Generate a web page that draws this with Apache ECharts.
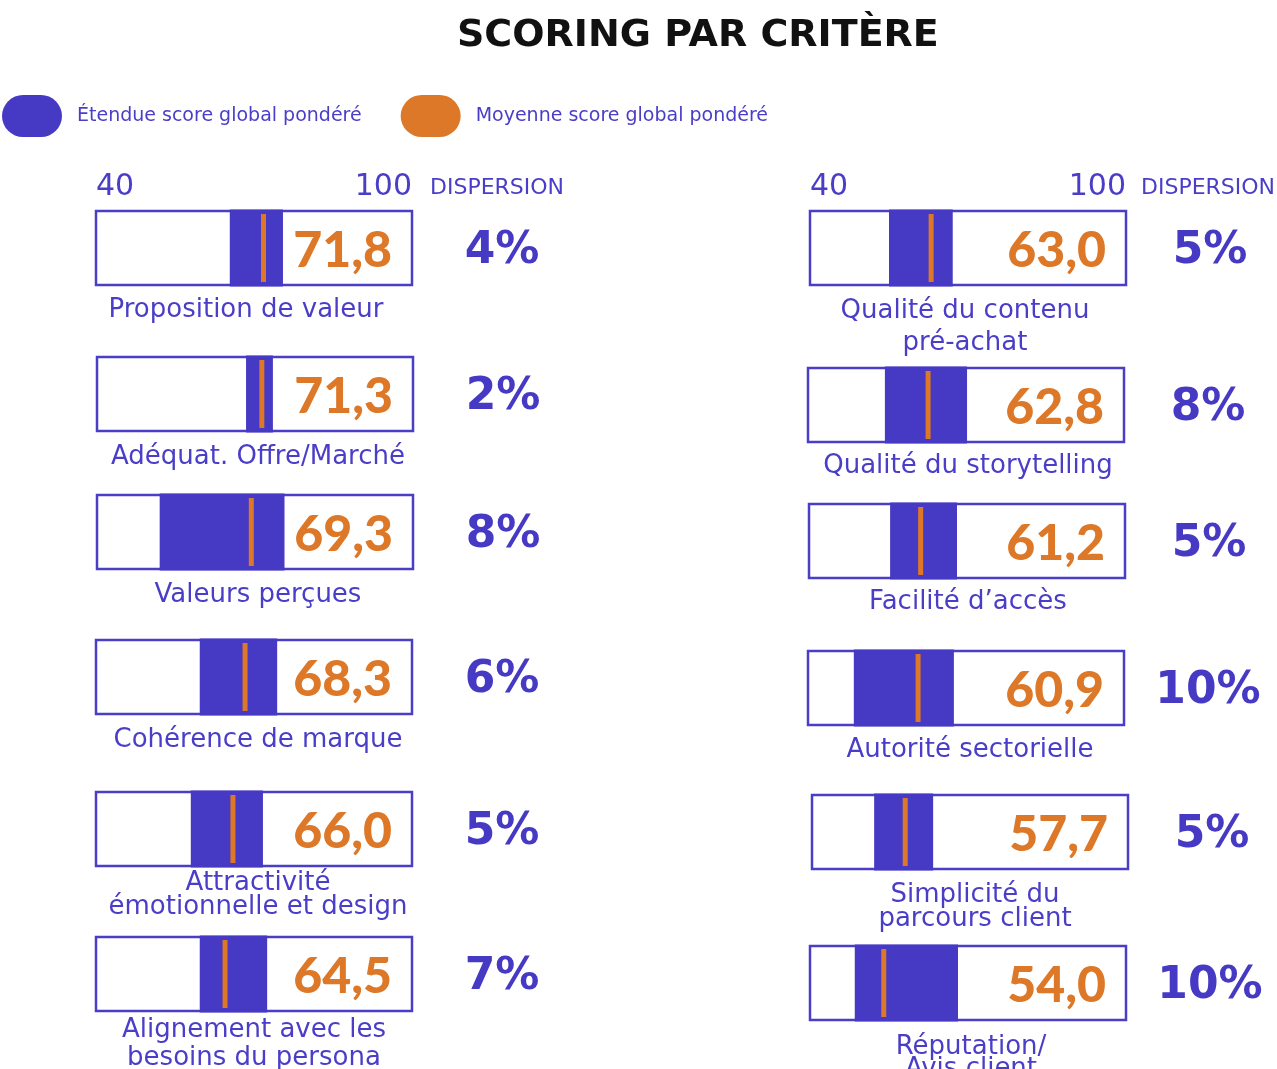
<!DOCTYPE html>
<html>
<head>
<meta charset="utf-8">
<script src="https://cdn.jsdelivr.net/npm/echarts@6/dist/echarts.min.js"></script>
<style>
  html, body { margin: 0; padding: 0; background: #ffffff; }
  #main { width: 1277px; height: 1069px; }
</style>
</head>
<body>
<div id="main"></div>
<script>
// data
const criteria = [
  'Proposition de valeur', 'Adéquat. Offre/Marché', 'Valeurs perçues',
  'Cohérence de marque', 'Attractivité\némotionnelle et design', 'Alignement avec les\nbesoins du persona',
  'Qualité du contenu\npré-achat', 'Qualité du storytelling', 'Facilité d’accès',
  'Autorité sectorielle', 'Simplicité du\nparcours client', 'Réputation/\nAvis client'
];
const rangeLow = [65.4, 68.3, 51.9, 59.7, 58.0, 59.7, 55.0, 54.6, 55.4, 48.7, 51.8, 48.5];
const rangeHigh = [75.5, 73.4, 75.6, 74.4, 71.7, 72.5, 67.1, 70.2, 68.1, 67.7, 63.0, 68.1];
const meanScore = [71.8, 71.3, 69.3, 68.3, 66.0, 64.5, 63.0, 62.8, 61.2, 60.9, 57.7, 54.0];
const dispersion = [4, 2, 8, 6, 5, 7, 5, 8, 5, 10, 5, 10];
const scaleTicks = [40, 100];
const seriesNames = ['Étendue score global pondéré', 'Moyenne score global pondéré'];

// layout
const boxLeft = [96, 97, 97, 96, 96, 96, 810, 808, 809, 808, 812, 810];
const boxTop = [211, 357, 495, 640, 792, 937, 211, 368, 504, 651, 795, 946];
const BOX_W = 316, BOX_H = 74;
const labelX = [246, 258, 258, 258, 258, 254, 965, 968, 968, 970, 975, 971];
const labelTop = [296, 443, 581, 726, 871, 1016, 295, 452, 588, 736, 883, 1036];
const labelLH = [28, 28, 28, 28, 24, 28, 32, 28, 28, 28, 24, 22];

const BLUE = '#4639c4';
const TEXT_BLUE = '#4a3ec8';
const ORANGE = '#dc7828';
const FONT = 'DejaVu Sans';

const chart = echarts.init(document.getElementById('main'), null, { renderer: 'canvas' });

const grids = [], xAxes = [], yAxes = [], series = [], graphics = [];

criteria.forEach(function (name, i) {
  const col = i < 6 ? 0 : 1;
  const isTop = i === 0 || i === 6;
  grids.push({
    left: boxLeft[i], top: boxTop[i], width: BOX_W, height: BOX_H,
    show: true, backgroundColor: '#ffffff', borderColor: TEXT_BLUE, borderWidth: 2.5
  });
  xAxes.push({
    type: 'value', gridIndex: i, min: scaleTicks[0], max: scaleTicks[1],
    interval: scaleTicks[1] - scaleTicks[0], position: 'top',
    show: isTop,
    axisLine: { show: false }, axisTick: { show: false }, splitLine: { show: false },
    axisLabel: {
      show: isTop, color: TEXT_BLUE, fontSize: 30, fontFamily: FONT, margin: 9,
      alignMinLabel: 'left', alignMaxLabel: 'right'
    }
  });
  yAxes.push({ type: 'category', gridIndex: i, data: [name], show: false });

  // range band
  series.push({
    type: 'custom', name: seriesNames[0], xAxisIndex: i, yAxisIndex: i,
    itemStyle: { color: BLUE }, z: 2, silent: true,
    data: [[rangeLow[i], rangeHigh[i], 0]],
    renderItem: function (params, api) {
      const cs = params.coordSys;
      const a = api.coord([api.value(0), 0]);
      const b = api.coord([api.value(1), 0]);
      return {
        type: 'rect',
        shape: { x: a[0], y: cs.y - 1.5, width: b[0] - a[0], height: cs.height + 3 },
        style: { fill: BLUE }
      };
    }
  });

  // mean marker, value and dispersion
  series.push({
    type: 'custom', name: seriesNames[1], xAxisIndex: i, yAxisIndex: i,
    itemStyle: { color: ORANGE }, z: 3, silent: true,
    data: [[meanScore[i], 0, dispersion[i]]],
    renderItem: function (params, api) {
      const cs = params.coordSys;
      const m = api.coord([api.value(0), 0]);
      const right = api.coord([scaleTicks[1], 0])[0];
      const midY = cs.y + cs.height / 2;
      return {
        type: 'group',
        children: [
          {
            type: 'rect',
            shape: { x: m[0] - 2.5, y: cs.y + 3, width: 5, height: cs.height - 6 },
            style: { fill: ORANGE }
          },
          {
            type: 'text',
            style: {
              x: right - 20, y: midY + 3,
              text: api.value(0).toFixed(1).replace('.', ','),
              align: 'right', verticalAlign: 'middle',
              fill: ORANGE, fontSize: 50, fontWeight: 900, fontFamily: 'Lato'
            }
          },
          {
            type: 'text',
            style: {
              x: right + (col === 0 ? 90 : 84), y: midY + 4,
              text: api.value(2) + '%',
              align: 'center', verticalAlign: 'middle',
              fill: BLUE, fontSize: 44, fontWeight: 'bold', fontFamily: FONT
            }
          }
        ]
      };
    }
  });

  graphics.push({
    type: 'text', silent: true,
    x: labelX[i], y: labelTop[i],
    style: {
      text: name, align: 'center', verticalAlign: 'top',
      fill: TEXT_BLUE, fontSize: 26, fontFamily: FONT, lineHeight: labelLH[i]
    }
  });
});

graphics.push(
  { type: 'text', x: 430, y: 188, silent: true,
    style: { text: 'DISPERSION', verticalAlign: 'middle', fill: TEXT_BLUE, fontSize: 22, fontFamily: FONT } },
  { type: 'text', x: 1141, y: 188, silent: true,
    style: { text: 'DISPERSION', verticalAlign: 'middle', fill: TEXT_BLUE, fontSize: 22, fontFamily: FONT } }
);

const option = {
  backgroundColor: '#ffffff',
  animation: false,
  title: {
    text: 'SCORING PAR CRITÈRE', left: 452, top: 12,
    textStyle: { color: '#111111', fontSize: 38, fontWeight: 'bold', fontFamily: FONT }
  },
  legend: {
    left: 2, top: 95, padding: 0, itemWidth: 60, itemHeight: 43, itemGap: 39,
    data: seriesNames,
    icon: 'path://M21,0H39A21,21,0,0,1,39,42H21A21,21,0,0,1,21,0Z',
    textStyle: { color: TEXT_BLUE, fontSize: 19, fontFamily: FONT, padding: [0, 0, 0, 10] },
    selectedMode: false
  },
  grid: grids,
  xAxis: xAxes,
  yAxis: yAxes,
  series: series,
  graphic: graphics
};

chart.setOption(option);
</script>
</body>
</html>
